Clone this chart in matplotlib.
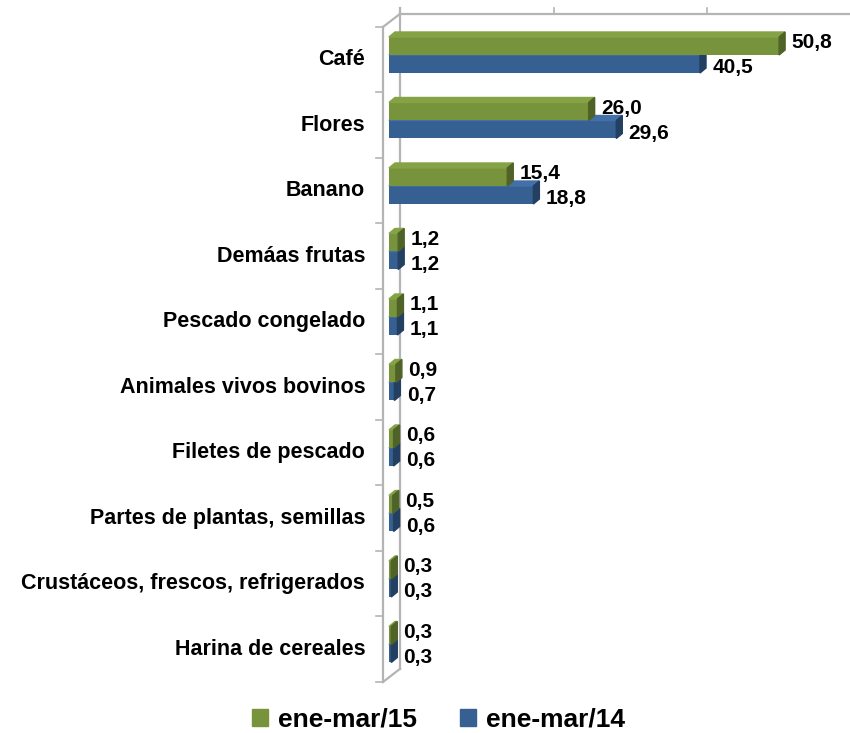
import matplotlib.pyplot as plt
from matplotlib.patches import Polygon, Patch

plt.rcParams['font.family'] = ['Liberation Sans', 'DejaVu Sans']
plt.rcParams['font.weight'] = 'bold'

productos = ["Café", "Flores", "Banano", "Demáas frutas", "Pescado congelado",
             "Animales vivos bovinos", "Filetes de pescado",
             "Partes de plantas, semillas", "Crustáceos, frescos, refrigerados",
             "Harina de cereales"]
ene_mar_15 = [50.8, 26.0, 15.4, 1.2, 1.1, 0.9, 0.6, 0.5, 0.3, 0.3]
ene_mar_14 = [40.5, 29.6, 18.8, 1.2, 1.1, 0.7, 0.6, 0.6, 0.3, 0.3]
series = ["ene-mar/15", "ene-mar/14"]

# colores: frente, tapa, lado
verde = ("#77933C", "#85A345", "#4F6228")
azul = ("#376092", "#4370A8", "#233F62")

fig = plt.figure(figsize=(8.5, 7.33), dpi=100)
ax = fig.add_axes([0, 0, 1, 1])
ax.set_xlim(-50.65, 60.03)
ax.set_ylim(10.279, -0.912)
ax.axis("off")

# profundidad 3D de las barras y de las paredes
bdx, bdy = 0.78, -0.076
wdx, wdy = 2.21, -0.2
wx0 = -0.78
h = 0.275
gris = "#B4B4B4"

# paredes
n = len(productos)
ax.plot([wx0, wx0], [-0.5, n - 0.5], color=gris, lw=1.6, zorder=1)
ax.plot([wx0 + wdx, wx0 + wdx], [-0.79, n - 0.5 + wdy], color=gris, lw=1.6, zorder=1)
ax.plot([wx0, wx0 + wdx], [-0.5, -0.5 + wdy], color=gris, lw=1.6, zorder=1)
ax.plot([wx0, wx0 + wdx], [n - 0.5, n - 0.5 + wdy], color=gris, lw=1.6, zorder=1)
ax.plot([wx0 + wdx, 60.03], [-0.5 + wdy, -0.5 + wdy], color=gris, lw=1.6, zorder=1)
for v in [0, 20, 40]:
    xb = wx0 + wdx + v
    ax.plot([xb, xb], [-0.79, -0.5 + wdy], color=gris, lw=1.2, zorder=1)
for k in range(n + 1):
    ax.plot([wx0 - 0.91, wx0], [k - 0.5, k - 0.5], color=gris, lw=1.2, zorder=1)


def barra3d(y, v, colores, z):
    frente, tapa, lado = colores
    top, bot = y - h / 2, y + h / 2
    ax.barh(y, v, height=h, left=0, color=frente, zorder=z)
    ax.add_patch(Polygon([(0, top), (v, top), (v + bdx, top + bdy), (bdx, top + bdy)],
                         closed=True, color=tapa, zorder=z))
    ax.add_patch(Polygon([(v, top), (v + bdx, top + bdy), (v + bdx, bot + bdy), (v, bot)],
                         closed=True, color=lado, zorder=z))


def etiqueta(v):
    return f"{v:.1f}".replace(".", ",")


for i, nombre in enumerate(productos):
    yc = i - 0.0725
    y15 = yc - h / 2
    y14 = yc + h / 2
    barra3d(y14, ene_mar_14[i], azul, 3)
    barra3d(y15, ene_mar_15[i], verde, 4)
    ax.text(ene_mar_15[i] + 1.6, y15 - 0.05, etiqueta(ene_mar_15[i]),
            fontsize=15, fontweight="bold", va="center", ha="left", zorder=6)
    ax.text(ene_mar_14[i] + 1.6, y14 + 0.06, etiqueta(ene_mar_14[i]),
            fontsize=15, fontweight="bold", va="center", ha="left", zorder=6)
    ax.text(-3.1, i, nombre, fontsize=15.5, fontweight="bold", va="center", ha="right")

handles = [Patch(color=verde[0]), Patch(color=azul[0])]
fig.legend(handles, series, loc="center", bbox_to_anchor=(0.516, 0.018), ncol=2,
           frameon=False, handlelength=0.6, handleheight=0.6, handletextpad=0.4,
           columnspacing=1.6, prop={"size": 19, "weight": "bold"})

fig.savefig("out.png", dpi=100)
